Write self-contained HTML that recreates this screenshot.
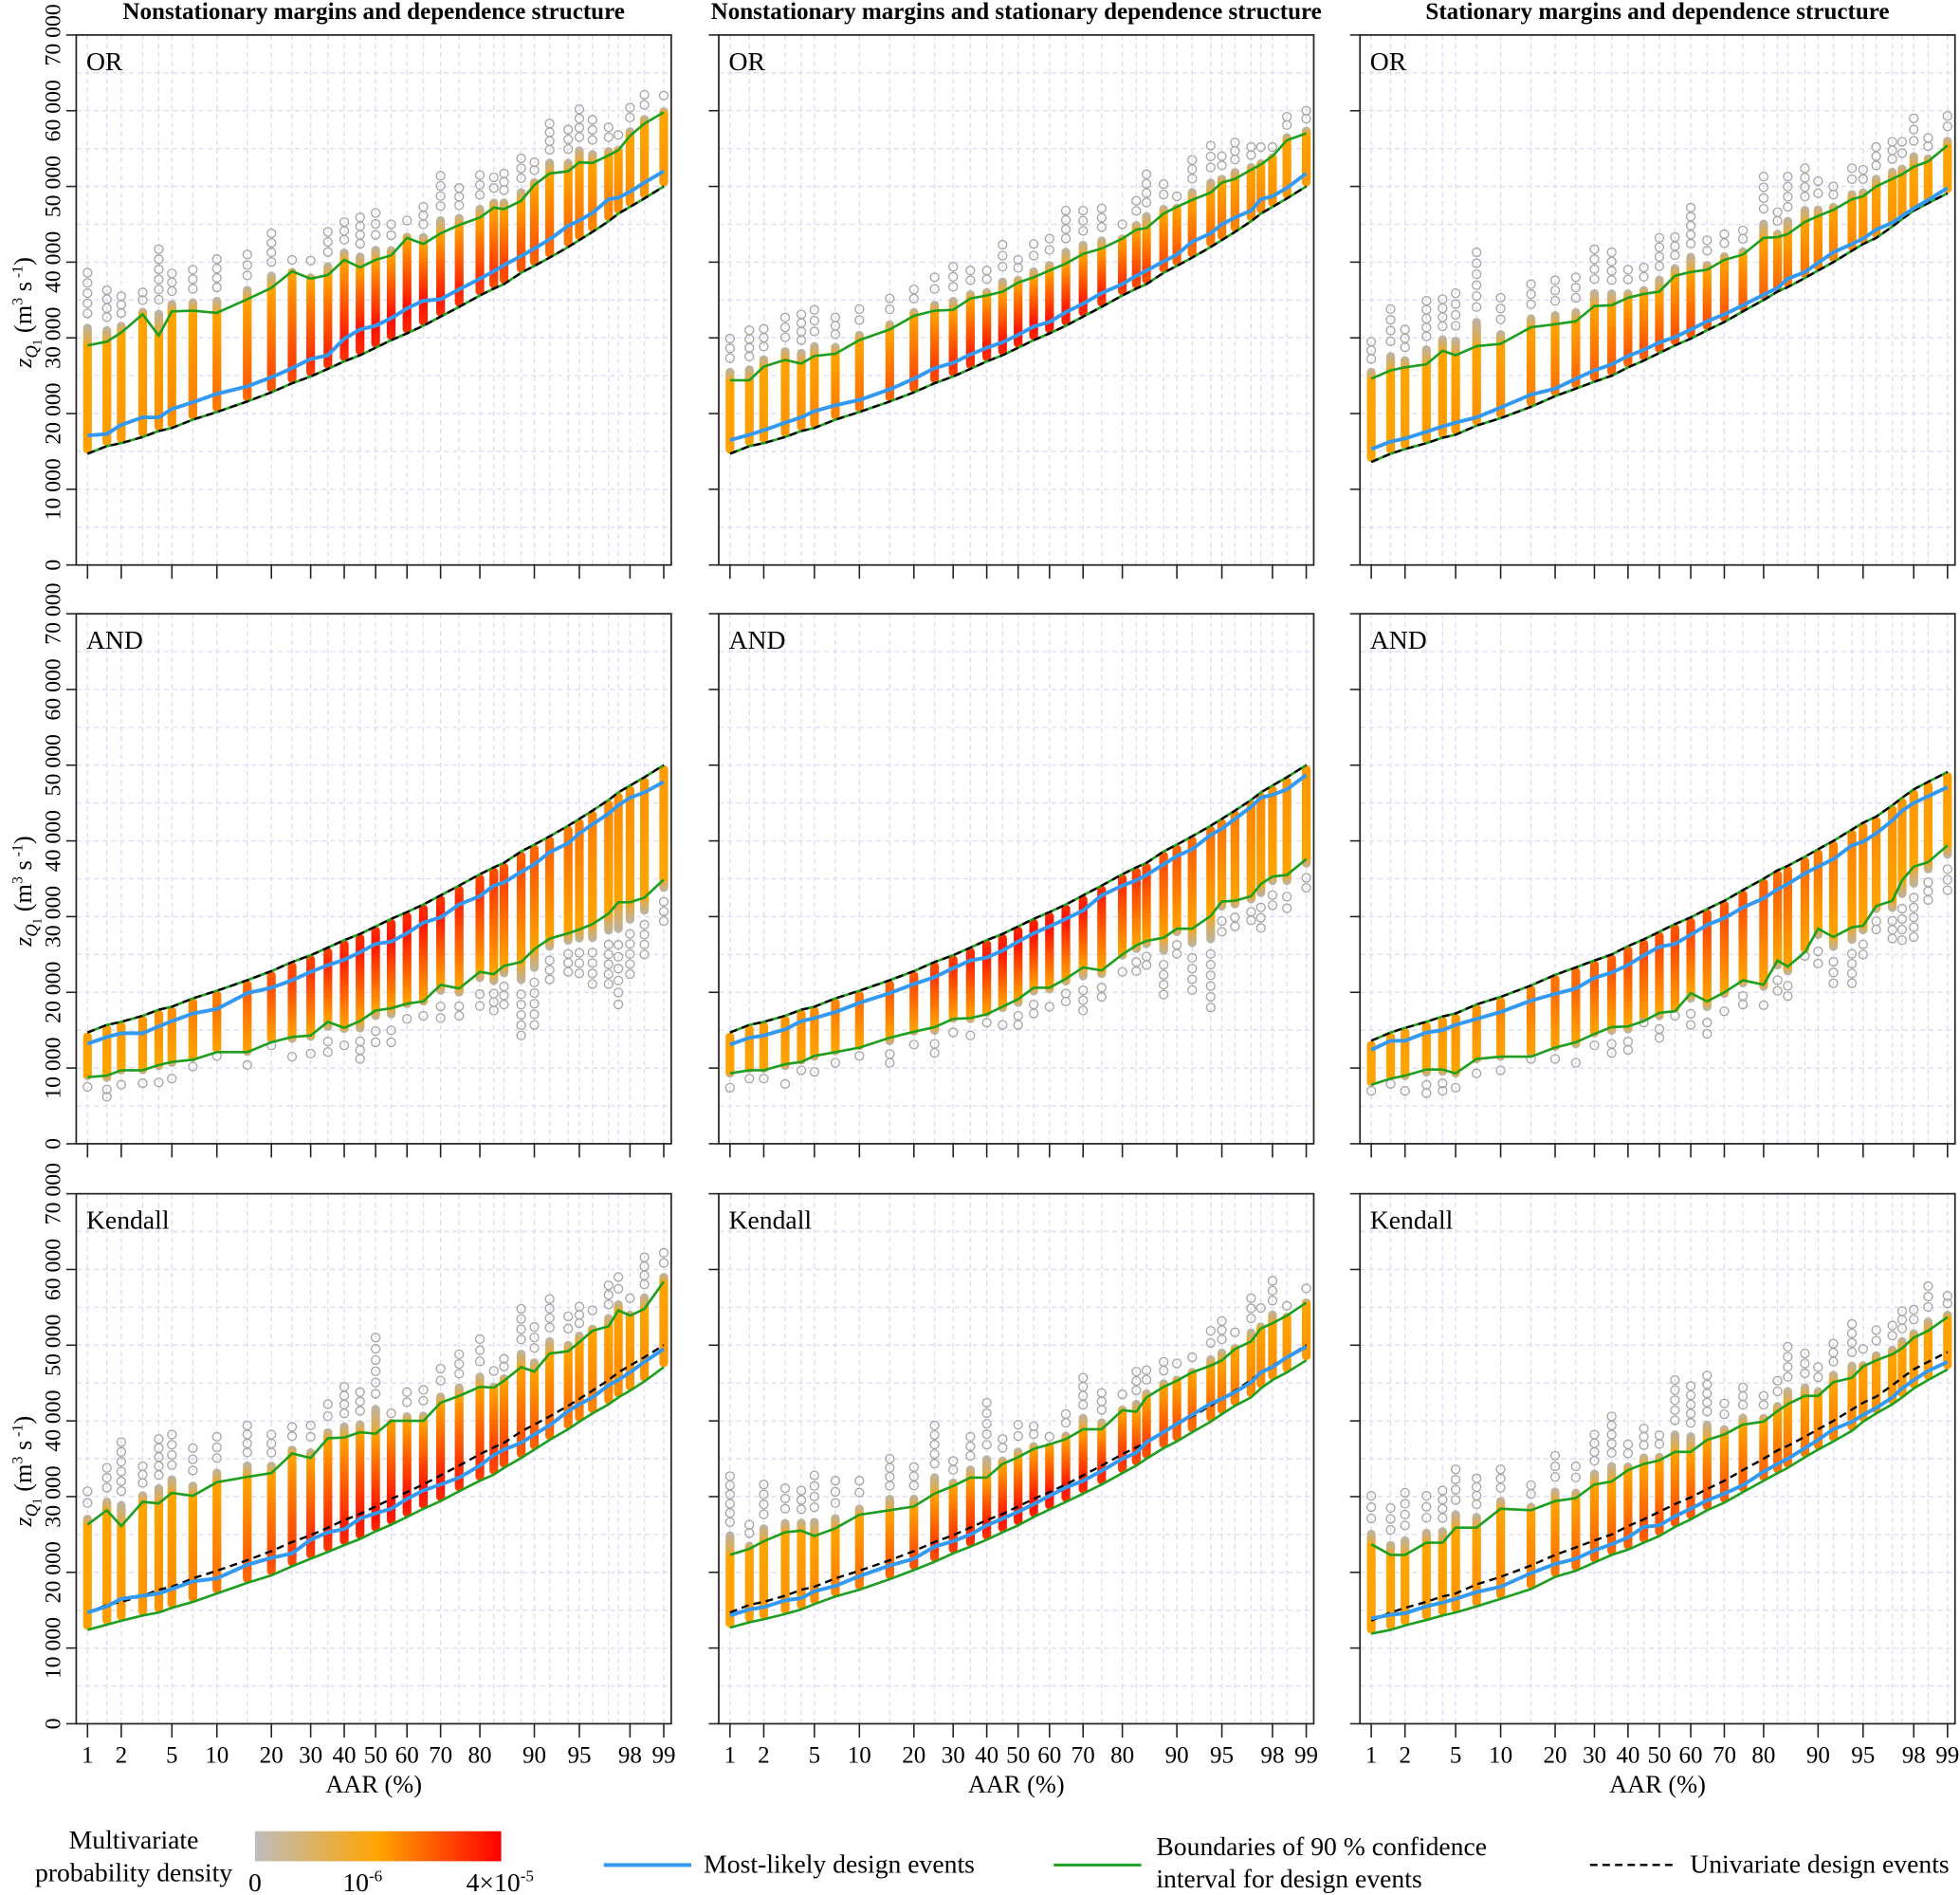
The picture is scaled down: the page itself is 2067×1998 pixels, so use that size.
<!DOCTYPE html>
<html><head><meta charset="utf-8"><title>Design events chart</title>
<style>
html,body{margin:0;padding:0;background:#fff;}
svg{display:block;font-family:"Liberation Serif",serif;}
</style></head>
<body>
<svg id="chart" xmlns="http://www.w3.org/2000/svg" width="2067" height="1998" viewBox="0 0 1568 1516" preserveAspectRatio="none">
<defs>
<linearGradient id="cbar" x1="0" y1="0" x2="1" y2="0">
<stop offset="0" stop-color="#bdbdbd"/><stop offset="0.5" stop-color="#ffa500"/><stop offset="1" stop-color="#ff0000"/>
</linearGradient>
</defs>
<g font-weight="bold" font-size="19" text-anchor="middle">
<text x="299" y="15">Nonstationary margins and dependence structure</text>
<text x="813" y="15">Nonstationary margins and stationary dependence structure</text>
<text x="1326" y="15">Stationary margins and dependence structure</text>
</g>
<g font-size="21">
<text x="107" y="1479" text-anchor="middle">Multivariate</text>
<text x="107" y="1505" text-anchor="middle">probability density</text>
<rect x="204" y="1465" width="197" height="24" fill="url(#cbar)"/>
<text x="204" y="1513" text-anchor="middle">0</text>
<text x="290" y="1513" text-anchor="middle">10<tspan font-size="13" dy="-8">-6</tspan></text>
<text x="400" y="1513" text-anchor="middle">4×10<tspan font-size="13" dy="-8">-5</tspan></text>
<line x1="483" y1="1492" x2="553" y2="1492" stroke="#3399f3" stroke-width="3"/>
<text x="563" y="1498">Most-likely design events</text>
<line x1="843" y1="1492" x2="913" y2="1492" stroke="#1f9e1f" stroke-width="2.2"/>
<text x="925" y="1484">Boundaries of 90 % confidence</text>
<text x="925" y="1510">interval for design events</text>
<line x1="1272" y1="1492" x2="1340" y2="1492" stroke="#000" stroke-width="1.8" stroke-dasharray="6,4"/>
<text x="1352" y="1498">Univariate design events</text>
</g>
</svg>
<script>
// ---- data (values in thousands of m3/s) ----
const AAR=[1,1.5,2,3,4,5,7,10,15,20,25,30,35,40,45,50,55,60,65,70,75,80,83,85,88,90,92,94,95,96,97,97.5,98,98.5,99];
const xTickLabels=[1,2,5,10,20,30,40,50,60,70,80,90,95,98,99];
const yTickValues=[0,10000,20000,30000,40000,50000,60000,70000];
const yTickLabels=["0","10 000","20 000","30 000","40 000","50 000","60 000","70 000"];
const uniA=[14.7,15.7,16.1,16.9,17.7,18.1,19.2,20.2,21.6,22.8,24.0,24.9,25.9,26.9,27.7,28.7,29.7,30.6,31.6,32.8,34.1,35.6,36.5,37.1,38.6,39.5,40.6,42.0,42.9,44.0,45.4,46.4,47.3,48.4,50.0];
const uniB=[13.6,14.7,15.3,16.1,16.8,17.2,18.4,19.4,20.9,22.3,23.3,24.2,25.0,26.1,27.0,28.0,29.0,29.9,31.0,32.1,33.5,35.0,36.1,36.7,37.9,38.9,40.0,41.5,42.4,43.2,44.7,45.7,46.8,47.8,49.1];
const blue1=[17.1,17.3,18.5,19.5,19.5,20.6,21.5,22.6,23.6,24.8,26.0,27.2,27.7,29.9,31.1,31.6,32.6,33.9,34.9,35.1,36.4,37.8,38.8,39.6,40.8,41.8,43.0,44.8,45.5,46.5,48.3,48.5,49.3,50.5,52.0];
const up1=[29.0,29.5,30.7,33.1,30.3,33.5,33.6,33.3,35.1,36.6,38.8,37.8,38.3,40.3,39.3,40.3,40.9,43.2,42.4,43.8,44.9,45.9,47.2,47.0,48.1,50.2,51.7,52.0,53.2,53.1,54.1,54.8,56.7,58.3,59.8];
const out1=[38.6,36.3,35.5,36.0,41.7,38.5,39.0,40.4,41.0,43.8,40.3,40.2,44.0,45.3,45.9,46.5,45.0,45.5,47.3,51.4,49.8,51.5,51.2,51.7,53.7,53.2,58.3,57.5,60.2,58.8,57.8,56.8,60.4,62.1,62.0];
const blue2=[16.5,17.2,17.8,18.8,19.5,20.3,21.1,21.8,23.2,24.6,26.0,26.7,27.8,28.7,29.4,30.4,31.5,32.1,33.4,34.5,35.9,37.1,38.2,38.9,40.1,41.0,42.7,43.8,45.0,45.9,46.8,48.3,48.7,49.8,51.7];
const up2=[24.4,24.4,26.2,27.1,26.6,27.6,27.9,29.7,31.1,32.9,33.6,33.7,35.2,35.6,36.1,37.3,38.0,38.9,39.8,41.1,41.8,43.1,44.3,44.5,46.4,47.3,48.2,49.2,50.5,51.0,52.2,52.9,54.0,56.1,57.0];
const out2=[29.9,31.0,31.2,32.7,33.1,33.7,32.7,33.8,35.2,36.4,38.0,39.4,38.9,38.9,42.3,40.3,42.4,43.1,46.8,46.8,47.1,45.0,48.1,51.6,50.3,48.7,53.5,55.4,54.0,55.8,55.2,55.2,55.2,59.2,60.0];
const blue3=[15.3,16.3,16.7,17.6,18.3,18.8,19.5,20.8,22.5,23.3,24.6,25.7,26.5,27.6,28.4,29.4,30.1,31.1,32.2,33.1,34.3,35.7,36.6,37.8,38.7,39.9,41.3,42.4,43.1,44.3,45.2,46.1,47.1,48.2,49.8];
const up3=[24.6,25.7,26.1,26.5,28.3,27.7,28.9,29.2,31.4,31.8,32.2,34.2,34.3,35.3,35.8,36.1,38.2,38.7,39.0,40.3,41.0,43.2,43.3,43.7,45.3,46.1,46.9,48.3,48.7,50.0,51.0,51.6,52.6,53.3,55.4];
const out3=[29.5,33.8,31.1,34.9,35.1,35.9,41.3,35.3,37.1,37.6,38.0,41.7,41.3,39.0,39.3,43.2,43.3,47.2,42.9,43.7,44.2,51.3,46.6,51.3,52.4,50.7,50.0,52.4,52.2,55.2,55.9,55.9,59.0,56.4,59.3];
const blue4=[13.2,14.1,14.6,14.6,15.5,16.2,17.2,17.8,19.9,20.6,21.6,22.7,23.6,24.3,25.3,26.4,26.7,27.8,29.2,29.9,31.6,32.7,34.1,34.5,35.9,36.9,38.5,39.7,41.0,42.2,43.6,44.7,45.7,46.4,47.8];
const low4=[8.8,9.0,9.7,9.7,10.4,10.8,11.1,12.1,12.1,13.4,14.1,14.3,16.1,15.3,16.2,17.6,17.9,18.5,18.8,21.0,20.5,22.7,22.4,23.5,24.0,25.7,27.1,27.8,28.3,29.0,30.4,31.9,31.9,32.5,34.9];
const omin4=[7.5,6.2,7.8,8.0,8.1,8.6,10.2,11.6,10.4,13.0,11.5,11.9,12.1,13.0,11.2,13.4,13.4,16.5,16.9,16.6,16.9,18.2,17.6,18.4,14.3,15.7,21.7,22.7,22.5,21.1,21.1,18.4,22.4,25.0,29.4];
const blue5=[13.1,14.0,14.3,15.1,16.2,16.6,17.4,18.6,19.9,21.1,22.0,23.2,24.2,24.6,25.5,26.7,27.8,28.7,29.7,30.8,32.8,34.1,34.8,35.5,36.9,38.0,38.9,40.8,41.6,42.9,44.5,45.7,46.1,46.8,48.7];
const low5=[9.3,9.7,9.7,10.5,10.8,11.6,12.1,12.7,14.0,14.8,15.4,16.5,16.6,17.1,18.1,19.1,20.6,20.6,21.8,23.3,22.9,25.0,26.2,26.8,27.2,28.4,28.4,30.1,32.0,32.1,32.7,34.3,35.3,35.5,37.6];
const omin5=[7.4,8.6,8.6,7.9,9.7,9.5,10.7,11.6,10.7,13.1,12.0,14.7,14.3,16.0,15.7,15.7,17.2,18.1,18.8,17.6,19.4,22.7,22.8,23.6,19.7,25.1,20.3,18.0,28.0,28.7,29.5,28.5,31.5,31.1,33.8];
const blue6=[12.4,13.6,13.6,14.7,15.0,15.7,16.5,17.4,18.9,19.8,20.5,21.9,22.6,23.6,24.9,26.0,26.4,27.6,28.9,29.8,31.2,32.4,33.6,34.3,35.7,36.6,37.6,39.4,39.9,41.0,42.7,44.0,45.0,45.9,47.1];
const low6=[7.8,8.6,9.0,9.8,9.8,9.3,11.2,11.5,11.5,12.7,13.4,14.5,15.4,15.5,16.2,17.3,17.5,19.9,18.8,20.0,21.6,21.0,24.2,23.4,25.3,28.4,27.3,28.6,28.8,31.4,32.1,34.8,36.6,37.2,39.4];
const omin6=[7.0,7.9,7.0,6.7,7.0,7.4,9.3,9.7,11.2,11.2,10.7,13.0,12.0,12.4,16.0,14.0,16.9,15.7,14.5,17.5,18.4,18.3,20.2,19.5,24.8,23.8,21.2,21.2,25.0,28.3,27.1,26.9,27.3,32.2,33.5];
const blue7=[14.7,15.5,16.5,16.9,17.2,17.8,18.8,19.2,21.0,21.9,22.5,24.3,25.3,25.7,27.1,27.8,28.4,29.7,30.8,31.6,32.5,34.1,35.5,36.2,37.1,38.2,39.4,41.3,42.2,43.1,44.7,45.4,46.4,47.8,49.5];
const up7=[26.3,28.2,26.1,29.3,29.1,30.5,30.1,31.9,32.6,33.1,35.7,35.1,37.7,37.8,38.5,38.3,40.0,40.0,40.0,42.4,43.3,44.5,44.4,45.3,47.1,46.5,48.9,49.2,50.4,51.9,52.5,54.6,53.9,54.8,58.4];
const low7=[12.4,13.1,13.6,14.3,14.7,15.3,16.1,17.2,18.6,19.6,20.8,21.8,22.7,23.6,24.4,25.4,26.3,27.3,28.4,29.4,30.7,32.1,32.9,33.8,35.1,36.2,37.5,38.9,39.9,41.0,42.2,43.1,44.0,45.2,47.1];
const out7=[30.7,33.8,37.2,34.0,37.6,38.2,36.4,37.9,39.4,38.2,39.2,39.4,42.2,44.5,43.8,51.0,41.0,43.8,44.1,46.9,48.8,50.8,46.6,48.2,54.8,52.4,56.1,53.8,55.1,54.6,57.9,59.0,56.2,61.6,62.2];
const blue8=[14.3,15.1,15.4,16.3,16.6,17.5,18.2,19.5,20.9,21.8,23.4,24.1,25.0,26.2,27.1,28.0,29.0,30.1,31.2,32.1,33.4,35.0,35.8,37.2,38.5,39.6,40.8,42.3,42.9,43.8,45.1,46.4,47.1,48.4,49.8];
const up8=[22.3,23.1,24.1,25.3,25.5,24.8,25.8,27.6,28.2,28.7,30.4,31.4,32.5,32.5,34.3,35.2,36.3,36.9,37.6,38.9,38.9,41.4,41.2,43.1,44.5,45.3,46.4,47.3,48.0,49.5,50.5,52.2,52.9,53.9,55.6];
const low8=[12.7,13.4,13.8,14.5,15.1,15.8,16.8,17.7,19.1,20.3,21.4,22.5,23.4,24.3,25.3,26.2,27.3,28.3,29.3,30.4,31.6,33.1,34.1,35.0,36.4,37.3,38.5,39.9,40.9,42.0,43.1,44.3,45.4,46.4,48.0];
const out8=[32.7,26.3,31.6,31.1,30.8,32.8,32.1,32.1,35.0,33.9,39.4,34.7,37.9,42.4,37.6,39.5,39.3,37.9,40.9,45.7,43.7,43.5,46.5,46.7,47.8,47.6,48.4,51.9,53.2,51.7,56.2,54.9,58.5,55.2,57.5];
const blue9=[13.9,14.4,14.6,15.5,16.0,16.5,17.4,18.1,19.9,21.1,21.8,22.9,23.7,24.6,26.0,26.2,27.4,28.4,29.5,30.4,31.5,33.3,34.3,35.0,36.4,37.5,38.9,39.9,40.8,41.7,43.1,44.3,45.4,46.6,47.8];
const up9=[23.7,22.3,22.3,23.9,23.9,25.9,25.9,28.4,28.2,29.4,29.8,31.6,32.0,33.5,34.3,34.8,35.9,35.9,37.5,38.2,39.5,39.9,41.3,42.2,43.3,43.3,45.1,45.7,47.2,48.0,48.8,49.6,51.0,51.9,53.7];
const low9=[11.9,12.4,13.0,13.7,14.3,14.7,15.5,16.5,17.8,19.4,20.2,21.3,22.3,23.0,23.9,24.8,26.0,27.0,28.2,29.2,30.6,32.1,33.1,33.8,35.2,36.2,37.3,38.7,39.9,41.0,42.2,43.1,44.3,45.4,46.8];
const out9=[30.1,28.5,30.5,30.1,30.8,33.6,32.4,33.6,31.5,35.4,34.0,38.2,40.6,36.9,39.0,38.1,45.4,44.6,46.0,42.3,44.4,43.3,45.3,49.8,48.9,47.1,50.2,52.8,49.5,52.0,52.6,54.5,54.7,57.8,56.5];

// ---- layout ----
const panelLefts=[61,575,1088], rowTops=[28,491,955], PW=476, PH=424;
const rowLabels=["OR","AND","Kendall"];
const panels=[
 {r:0,c:0,kind:"OR",uni:uniA,blue:blue1,up:up1,low:uniA,ext:out1,peak:1.0},
 {r:0,c:1,kind:"OR",uni:uniA,blue:blue2,up:up2,low:uniA,ext:out2,peak:1.0},
 {r:0,c:2,kind:"OR",uni:uniB,blue:blue3,up:up3,low:uniB,ext:out3,peak:0.55},
 {r:1,c:0,kind:"AND",uni:uniA,blue:blue4,up:uniA,low:low4,ext:omin4,peak:0.95},
 {r:1,c:1,kind:"AND",uni:uniA,blue:blue5,up:uniA,low:low5,ext:omin5,peak:1.0},
 {r:1,c:2,kind:"AND",uni:uniB,blue:blue6,up:uniB,low:low6,ext:omin6,peak:0.6},
 {r:2,c:0,kind:"K",uni:uniA,blue:blue7,up:up7,low:low7,ext:out7,peak:1.0},
 {r:2,c:1,kind:"K",uni:uniA,blue:blue8,up:up8,low:low8,ext:out8,peak:1.0},
 {r:2,c:2,kind:"K",uni:uniB,blue:blue9,up:up9,low:low9,ext:out9,peak:0.55}
];

const NS="http://www.w3.org/2000/svg";
const svg=document.getElementById("chart");
const defs=svg.querySelector("defs");
function mk(tag,attrs,parent){const e=document.createElementNS(NS,tag);for(const k in attrs)e.setAttribute(k,attrs[k]);(parent||svg).appendChild(e);return e;}

function qnorm(p){
 const a=[-39.69683028665376,220.9460984245205,-275.9285104469687,138.3577518672690,-30.66479806614716,2.506628277459239];
 const b=[-54.47609879822406,161.5858368580409,-155.6989798598866,66.80131188771972,-13.28068155288572];
 const c=[-0.007784894002430293,-0.3223964580411365,-2.400758277161838,-2.549732539343734,4.374664141464968,2.938163982698783];
 const d=[0.007784695709041462,0.3224671290700398,2.445134137142996,3.754408661907416];
 const pl=0.02425;let q,r;
 if(p<pl){q=Math.sqrt(-2*Math.log(p));return (((((c[0]*q+c[1])*q+c[2])*q+c[3])*q+c[4])*q+c[5])/((((d[0]*q+d[1])*q+d[2])*q+d[3])*q+1);}
 if(p>1-pl){q=Math.sqrt(-2*Math.log(1-p));return -(((((c[0]*q+c[1])*q+c[2])*q+c[3])*q+c[4])*q+c[5])/((((d[0]*q+d[1])*q+d[2])*q+d[3])*q+1);}
 q=p-0.5;r=q*q;return (((((a[0]*r+a[1])*r+a[2])*r+a[3])*r+a[4])*r+a[5])*q/(((((b[0]*r+b[1])*r+b[2])*r+b[3])*r+b[4])*r+1);
}
const ZMAX=qnorm(0.99);
function xScale(c,aar){return panelLefts[c]+9+(qnorm(aar/100)+ZMAX)/(2*ZMAX)*(PW-15);}
function yScale(r,v){return rowTops[r]+PH-v/70000*PH;}
function hex(c){return [parseInt(c.slice(1,3),16),parseInt(c.slice(3,5),16),parseInt(c.slice(5,7),16)];}
function mix(c1,c2,t){const a=hex(c1),b=hex(c2);return "rgb("+a.map((v,i)=>Math.round(v+(b[i]-v)*t)).join(",")+")";}
const GREY="#b8b3ac",ORANGE="#ffa500",RED="#ff0a00";

let gid=0;
panels.forEach((P,pi)=>{
 const L=panelLefts[P.c],T=rowTops[P.r];
 const g=mk("g",{});
 
 
 for(let v=5000;v<70000;v+=5000){
  const gl=mk("line",{x1:L,x2:L+PW,y1:yScale(P.r,v),y2:yScale(P.r,v),stroke:"#dcdcf4","stroke-width":1,"stroke-dasharray":"4,3"},g);
  
  
 }
 AAR.forEach(a=>{
  const x=xScale(P.c,a);
  const gl=mk("line",{x1:x,x2:x,y1:T,y2:T+PH,stroke:"#dcdcf4","stroke-width":1,"stroke-dasharray":"4,3"},g);
  
  
 });
 AAR.forEach((a,i)=>{
  const x=xScale(P.c,a);
  const z=qnorm(a/100);
  const t=P.peak*Math.exp(-Math.pow((z-0.15)/1.35,2));
  const pk=mix(ORANGE,RED,t);
  const id="cg"+(gid++);
  let yTop,yBot,stops;
  if(P.kind!=="AND"){
   const colTop=P.up[i]+0.3*(P.ext[i]-P.up[i]);
   yTop=yScale(P.r,colTop*1000);yBot=yScale(P.r,P.low[i]*1000);
   const f=v=>Math.max(0,Math.min(1,(yScale(P.r,v*1000)-yTop)/Math.max(1,yBot-yTop)));
   stops=[[0,GREY],[f(P.up[i])*0.85,mix(GREY,ORANGE,0.6)],[f(P.up[i]),ORANGE],[f(P.blue[i]),pk],[1,mix(ORANGE,RED,t*0.8)]];
  }else{
   const colBot=P.low[i]-0.3*(P.low[i]-P.ext[i]);
   yTop=yScale(P.r,P.up[i]*1000);yBot=yScale(P.r,colBot*1000);
   const f=v=>Math.max(0,Math.min(1,(yScale(P.r,v*1000)-yTop)/Math.max(1,yBot-yTop)));
   const fl=f(P.low[i]);
   stops=[[0,mix(ORANGE,RED,t*0.8)],[f(P.blue[i]),pk],[fl,ORANGE],[fl+(1-fl)*0.2,mix(GREY,ORANGE,0.6)],[1,GREY]];
  }
  const lg=mk("linearGradient",{id:id,x1:0,y1:yTop,x2:0,y2:yBot,gradientUnits:"userSpaceOnUse"},defs);
  stops.forEach(s=>mk("stop",{offset:s[0],"stop-color":s[1]},lg));
  const rc=mk("rect",{x:x-3.5,y:yTop,width:7,height:Math.max(1,yBot-yTop),rx:3.5,fill:"url(#"+id+")"},g);
  
  
  const start=P.kind!=="AND"?P.up[i]+0.3*(P.ext[i]-P.up[i]):P.low[i]-0.3*(P.low[i]-P.ext[i]);
  const span=P.ext[i]-start;
  const n=Math.min(6,Math.max(1,Math.round(Math.abs(span)/1.3)));
  for(let k=1;k<=n;k++){
   const v=start+span*k/n;
   const ci=mk("circle",{cx:x,cy:yScale(P.r,v*1000),r:3.4,fill:"none",stroke:"#a8a4a0","stroke-width":1},g);
   
   
  }
 });
 function pathOf(arr){return AAR.map((a,i)=>(i?"L":"M")+xScale(P.c,a).toFixed(1)+","+yScale(P.r,arr[i]*1000).toFixed(1)).join(" ");}
 const gu=mk("path",{d:pathOf(P.up),fill:"none",stroke:"#1f9e1f","stroke-width":2},g);
 
 
 const gl2=mk("path",{d:pathOf(P.low),fill:"none",stroke:"#1f9e1f","stroke-width":2},g);
 
 
 const un=mk("path",{d:pathOf(P.uni),fill:"none",stroke:"#000","stroke-width":1.8,"stroke-dasharray":"6,4"},g);
 
 
 const bl=mk("path",{d:pathOf(P.blue),fill:"none",stroke:"#3399f3","stroke-width":3,"stroke-linejoin":"round"},g);
 
 
 const fr=mk("rect",{x:L,y:T,width:PW,height:PH,fill:"none",stroke:"#222","stroke-width":1.3},g);
 
 
 const lb=mk("text",{x:L+8,y:T+28,"font-size":21},g);
 lb.textContent=rowLabels[P.r];
 
 
 yTickValues.forEach((v,k)=>{
  const y=yScale(P.r,v);
  const tk=mk("line",{x1:L-8,x2:L,y1:y,y2:y,stroke:"#222","stroke-width":1.2},g);
  
  
  if(P.c===0){
   const tl=mk("text",{x:L-13,y:y,"font-size":18,"text-anchor":"middle",transform:"rotate(-90 "+(L-13)+" "+y+")"},g);
   tl.textContent=yTickLabels[k];
   
   
  }
 });
 xTickLabels.forEach(a=>{
  const x=xScale(P.c,a);
  const tk=mk("line",{x1:x,x2:x,y1:T+PH,y2:T+PH+11,stroke:"#222","stroke-width":1.2},g);
  
  
  if(P.r===2){
   const tl=mk("text",{x:x,y:T+PH+31,"font-size":19,"text-anchor":"middle"},g);
   tl.textContent=String(a);
   
   
  }
 });
 if(P.r===2){
  const xt=mk("text",{x:L+PW/2,y:T+PH+55,"font-size":20,"text-anchor":"middle"},g);
  xt.textContent="AAR (%)";
  
  
 }
 if(P.c===0){
  const cy=T+PH/2+10;
  const yt=mk("text",{x:25,y:cy,"font-size":20,"text-anchor":"middle",transform:"rotate(-90 25 "+cy+")"},g);
  yt.innerHTML='<tspan font-style="italic">z</tspan><tspan font-style="italic" font-size="14" dy="5">Q</tspan><tspan font-size="10" dy="3">1</tspan><tspan dy="-8"> (m</tspan><tspan font-size="12" dy="-7">3</tspan><tspan dy="7"> s</tspan><tspan font-size="12" dy="-7"> -1</tspan><tspan dy="7">)</tspan>';
  
  
 }
});
</script>
</body></html>
